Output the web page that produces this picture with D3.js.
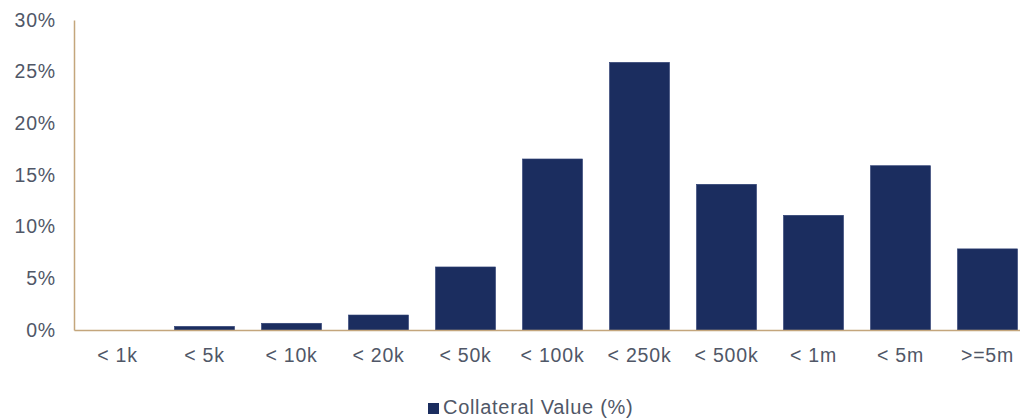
<!DOCTYPE html>
<html>
<head>
<meta charset="utf-8">
<script src="https://cdn.jsdelivr.net/npm/d3@7"></script>
<style>
  body { margin: 0; background: #fff; }
  text { font-family: "Liberation Sans", Arial, sans-serif; fill: #505767; letter-spacing: 0.8px; }
</style>
</head>
<body>
<div id="chart"></div>
<script>
// Chart data
const categories = ["< 1k", "< 5k", "< 10k", "< 20k", "< 50k", "< 100k", "< 250k", "< 500k", "< 1m", "< 5m", ">=5m"];
const values = [0.0, 0.35, 0.65, 1.45, 6.1, 16.55, 25.9, 14.1, 11.1, 15.9, 7.85];
const yTicks = [0, 5, 10, 15, 20, 25, 30];
const seriesName = "Collateral Value (%)";

const width = 1020, height = 418;
const margin = { top: 20, right: -11, bottom: 88, left: 74 };
const fontSize = 19.5;

const svg = d3.select("#chart")
    .append("svg")
    .attr("width", width)
    .attr("height", height);

const x = d3.scaleBand()
    .domain(categories)
    .range([margin.left, width - margin.right])
    .paddingInner(0.31)
    .paddingOuter(0.155);

const y = d3.scaleLinear()
    .domain([0, 30])
    .range([height - margin.bottom, margin.top]);

// Bars
svg.append("g")
    .selectAll("rect")
    .data(values)
    .join("rect")
    .attr("x", (d, i) => x(categories[i]))
    .attr("y", (d) => y(d))
    .attr("width", x.bandwidth())
    .attr("height", (d) => y(0) - y(d))
    .attr("fill", "#1b2d5f")
    .attr("stroke", "#2e4074")
    .attr("stroke-width", 0.6);

// Y axis
const yAxis = svg.append("g")
    .attr("transform", `translate(${margin.left},0)`)
    .call(d3.axisLeft(y).tickValues(yTicks).tickFormat((d) => d + "%").tickSize(0).tickPadding(18));
yAxis.select(".domain").attr("stroke", "#c4a67c").attr("stroke-width", 1.5);
yAxis.selectAll("text").attr("font-size", fontSize);

// X axis
const xAxis = svg.append("g")
    .attr("transform", `translate(0,${y(0)})`)
    .call(d3.axisBottom(x).tickSize(0).tickPadding(18));
xAxis.select(".domain").attr("stroke", "#c4a67c").attr("stroke-width", 1.5);
xAxis.selectAll("text").attr("font-size", fontSize);

// Legend
const legend = svg.append("g").attr("transform", "translate(428,403)");
legend.append("rect")
    .attr("width", 11)
    .attr("height", 11)
    .attr("fill", "#1b2d5f");
legend.append("text")
    .attr("x", 15)
    .attr("y", 11)
    .attr("font-size", 20)
    .style("letter-spacing", "0.7px")
    .text(seriesName);
</script>
</body>
</html>
